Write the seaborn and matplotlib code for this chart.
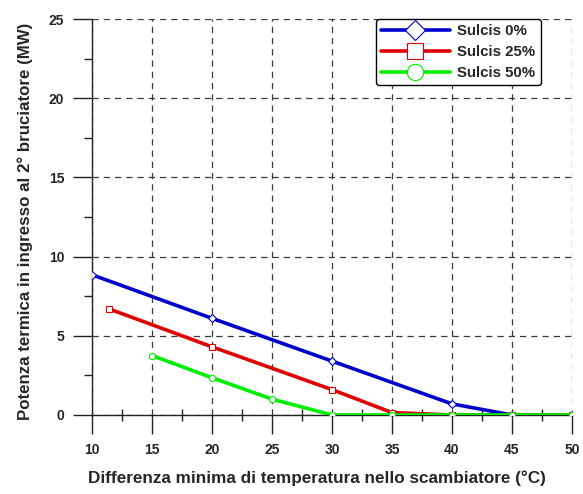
import matplotlib
matplotlib.use("Agg")
import matplotlib.pyplot as plt
import seaborn as sns
import pandas as pd
from matplotlib.ticker import MultipleLocator

# Thermal input to the second burner vs. minimum approach temperature
x_sulcis0 = [10, 20, 30, 40, 45, 50]
y_sulcis0 = [8.85, 6.1, 3.4, 0.7, 0.0, 0.0]

x_sulcis25 = [11.4, 20, 30, 35, 40, 45, 50]
y_sulcis25 = [6.7, 4.3, 1.6, 0.15, 0.0, 0.0, 0.0]

x_sulcis50 = [15, 20, 25, 30, 35, 40, 45, 50]
y_sulcis50 = [3.75, 2.35, 1.0, 0.0, 0.0, 0.0, 0.0, 0.0]

series_names = ["Sulcis 0%", "Sulcis 25%", "Sulcis 50%"]
series_colors = ["#0000cc", "#e00000", "#00ee00"]
series_markers = ["D", "s", "o"]

x_ticks = [10, 15, 20, 25, 30, 35, 40, 45, 50]
y_ticks = [0, 5, 10, 15, 20, 25]

frames = []
for name, xs, ys in zip(series_names,
                        [x_sulcis0, x_sulcis25, x_sulcis50],
                        [y_sulcis0, y_sulcis25, y_sulcis50]):
    frames.append(pd.DataFrame({"x": xs, "y": ys, "serie": name}))
df = pd.concat(frames, ignore_index=True)

sns.set_style("white")
plt.rcParams["font.family"] = ["Liberation Sans", "DejaVu Sans"]
plt.rcParams["font.weight"] = "bold"

fig = plt.figure(figsize=(5.83, 4.94), dpi=100)
ax = fig.add_axes([0.158, 0.16, 0.823, 0.8015])

for i, (name, col, mk) in enumerate(zip(series_names, series_colors, series_markers)):
    sub = df[df["serie"] == name]
    sns.lineplot(data=sub, x="x", y="y", ax=ax, color=col, label=name,
                 marker=mk, markersize=4.5 if mk != "D" else 4,
                 markerfacecolor="white", markeredgecolor=col,
                 markeredgewidth=0.8, linewidth=2.6, zorder=3 + i,
                 estimator=None, sort=False)

ax.set_xlim(10, 50)
ax.set_ylim(0, 25)
ax.set_xticks(x_ticks)
ax.set_yticks(y_ticks)
ax.xaxis.set_minor_locator(MultipleLocator(2.5))
ax.yaxis.set_minor_locator(MultipleLocator(2.5))

ax.grid(True, which="major", color="#3a3a3a", linestyle=(0, (5, 4)), linewidth=0.9)
ax.set_axisbelow(True)
for side in ["top", "right"]:
    ax.spines[side].set_visible(False)
for side in ["left", "bottom"]:
    ax.spines[side].set_color("#222222")
    ax.spines[side].set_linewidth(1.0)

ax.tick_params(which="major", direction="out", length=14, width=1.0,
               color="#222222", labelsize=10, pad=6, left=True, bottom=True)
ax.tick_params(which="minor", direction="inout", length=9, width=1.0,
               color="#222222", left=True, bottom=True)
ax.tick_params(axis="y", which="minor", direction="out", length=6)
for lab in ax.get_xticklabels() + ax.get_yticklabels():
    lab.set_fontweight("bold")

ax.set_xlabel("Differenza minima di temperatura nello scambiatore (°C)",
              fontsize=12.3, fontweight="bold")
ax.set_ylabel("Potenza termica in ingresso al 2° bruciatore (MW)",
              fontsize=12.2, fontweight="bold")
ax.xaxis.set_label_coords(0.469, -0.14)
ax.yaxis.set_label_coords(-0.124, 0.49)

leg = ax.legend(loc="upper right", bbox_to_anchor=(0.935, 1.0),
                frameon=True, fancybox=True, edgecolor="black",
                markerscale=2.6, handlelength=4.6, handletextpad=0.5,
                borderpad=0.35, labelspacing=0.45, borderaxespad=0.0,
                prop={"weight": "bold", "size": 10.8})
leg.get_frame().set_linewidth(1.0)
leg.get_frame().set_alpha(1.0)

fig.savefig("out.png", dpi=100)
